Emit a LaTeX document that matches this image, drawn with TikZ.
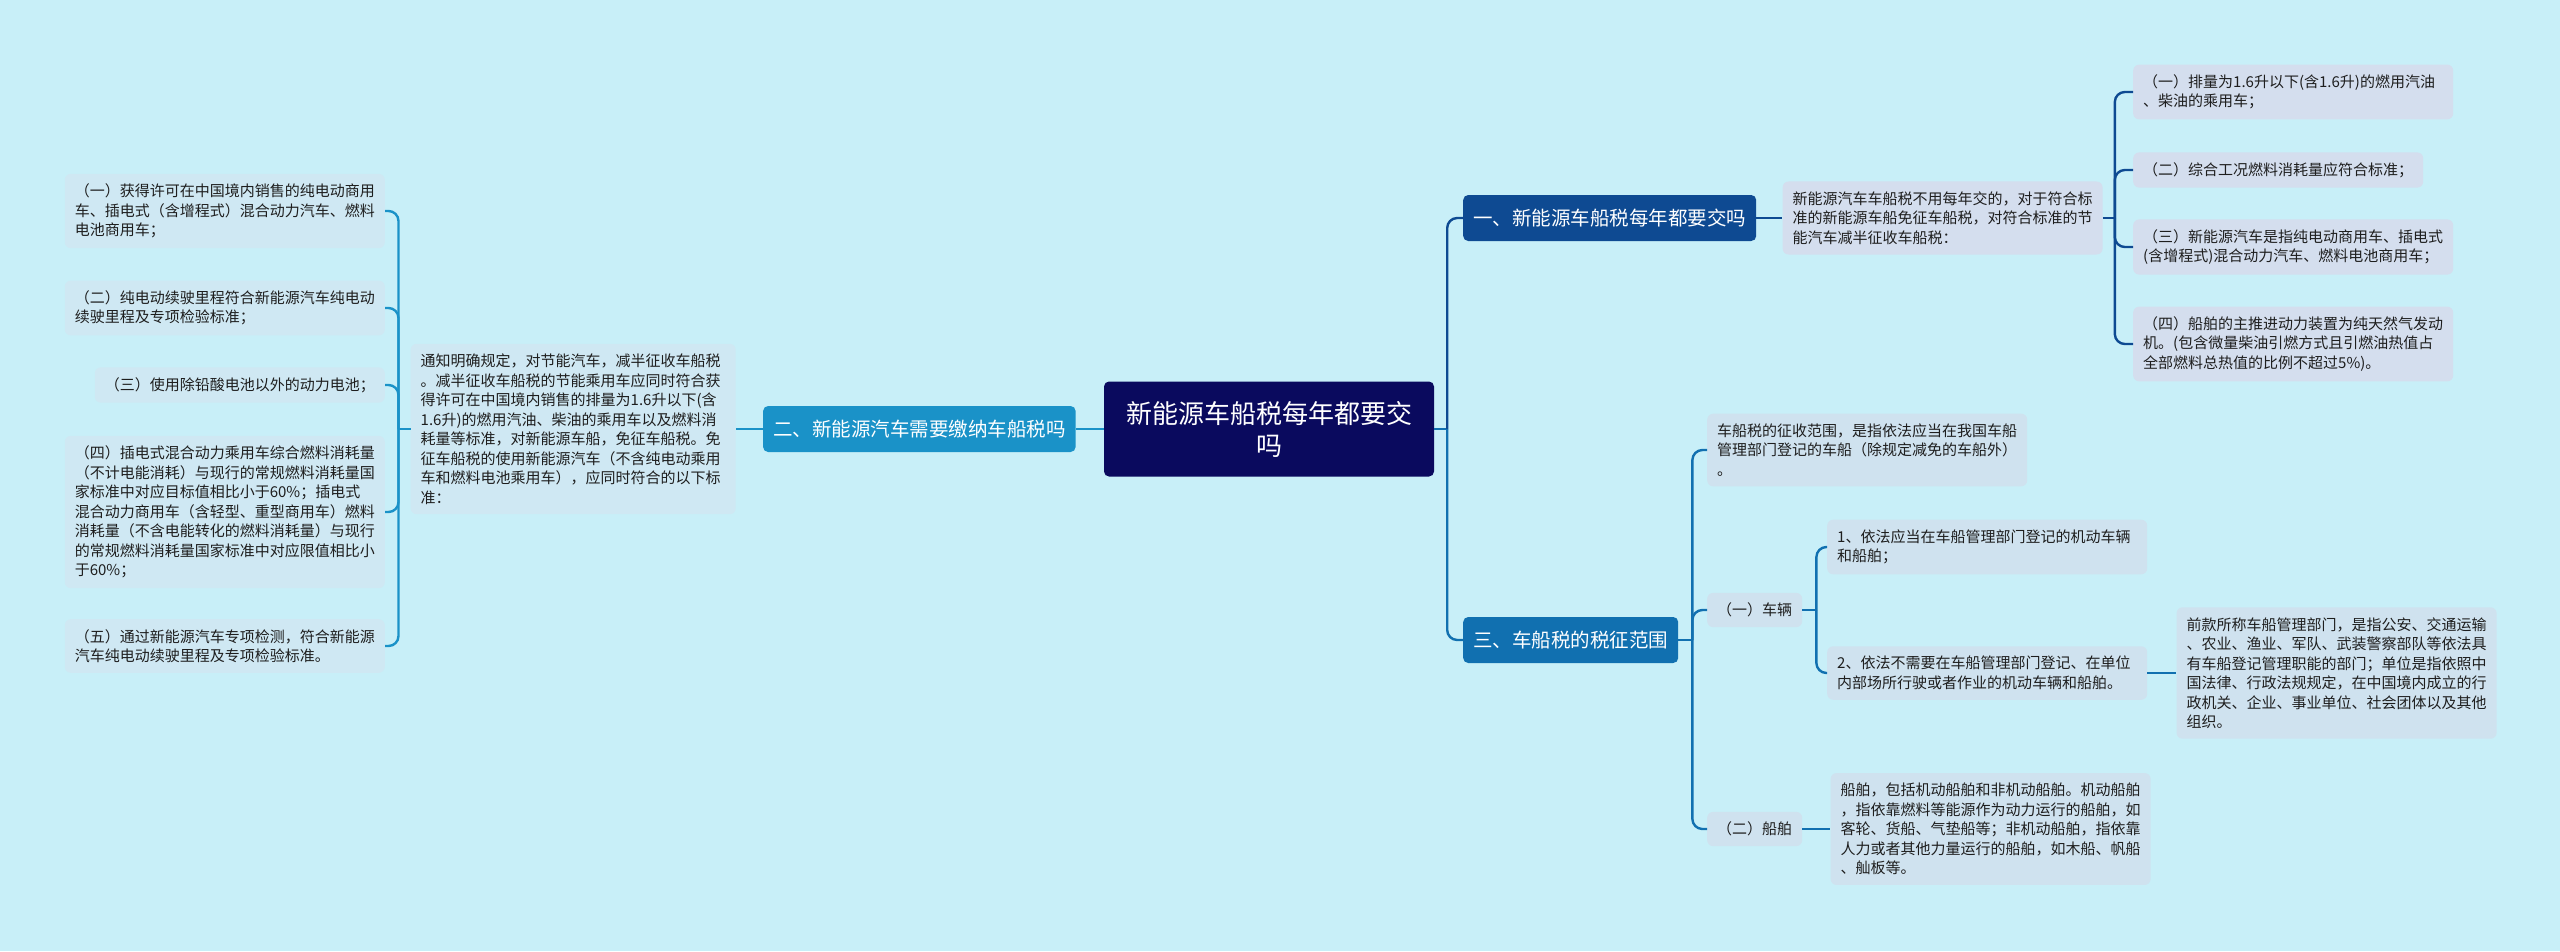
\documentclass[tikz,border=0pt]{standalone}
\usepackage{fontspec}
\usepackage{xcolor}
\usepackage{tikz}
\usetikzlibrary{positioning}
\newfontfamily\cjkfont{Noto Sans CJK SC}
\definecolor{mapBackground}{RGB}{200,239,248}
\definecolor{rootNavy}{RGB}{10,10,94}
\definecolor{branchOne}{RGB}{14,74,146}
\definecolor{branchTwo}{RGB}{26,146,200}
\definecolor{branchThree}{RGB}{17,112,176}
\definecolor{leafOne}{RGB}{212,222,238}
\definecolor{leafTwo}{RGB}{207,232,243}
\definecolor{leafThree}{RGB}{207,226,239}
\definecolor{textDark}{RGB}{30,30,30}
\tikzset{
  rootbox/.style={
    rectangle, rounded corners=5pt, fill=rootNavy, text=white,
    align=center, minimum width=330pt, minimum height=95pt,
    font=\cjkfont\fontsize{26}{32}\selectfont
  },
  branchbox/.style={
    rectangle, rounded corners=5pt, text=white, inner xsep=10pt,
    minimum height=46pt, font=\cjkfont\fontsize{19.5}{24}\selectfont
  },
  tagbox/.style={
    rectangle, rounded corners=6pt, text=textDark, inner xsep=10pt,
    inner ysep=10pt, font=\cjkfont\fontsize{15}{19.5}\selectfont
  },
  leafbox/.style={
    tagbox, align=left, text width=300pt
  },
  linkLine/.style={line width=2.4pt, rounded corners=10pt}
}

\begin{document}
\begin{tikzpicture}[x=1pt, y=-1pt]
  \fill[mapBackground] (0,0) rectangle (2560,951);
  \useasboundingbox (0,0) rectangle (2560,951);

  % centre topic
  \node[rootbox] (root) at (1269,429) {新能源车船税每年都要交\\吗};

  % branch one (right, top)
  \node[branchbox, fill=branchOne, anchor=west] (one) at (1463,218)
    {一、新能源车船税每年都要交吗};
  \node[leafbox, fill=leafOne, right=26pt of one] (oneNote)
    {新能源汽车车船税不用每年交的，对于符合标\\
     准的新能源车船免征车船税，对符合标准的节\\
     能汽车减半征收车船税：};
  \node[leafbox, fill=leafOne, anchor=west] (oneA) at (2133,92)
    {（一）排量为1.6升以下(含1.6升)的燃用汽油\\
     、柴油的乘用车；};
  \node[tagbox, fill=leafOne, anchor=west] (oneB) at (2133,170)
    {（二）综合工况燃料消耗量应符合标准；};
  \node[leafbox, fill=leafOne, anchor=west] (oneC) at (2133,247)
    {（三）新能源汽车是指纯电动商用车、插电式\\
     (含增程式)混合动力汽车、燃料电池商用车；};
  \node[leafbox, fill=leafOne, anchor=west] (oneD) at (2133,344)
    {（四）船舶的主推进动力装置为纯天然气发动\\
     机。(包含微量柴油引燃方式且引燃油热值占\\
     全部燃料总热值的比例不超过5\%)。};

  % branch two (left)
  \node[branchbox, fill=branchTwo, left=28pt of root] (two)
    {二、新能源汽车需要缴纳车船税吗};
  \node[leafbox, fill=leafTwo, text width=305pt, left=27pt of two] (twoNote)
    {通知明确规定，对节能汽车，减半征收车船税\\
     。减半征收车船税的节能乘用车应同时符合获\\
     得许可在中国境内销售的排量为1.6升以下(含\\
     1.6升)的燃用汽油、柴油的乘用车以及燃料消\\
     耗量等标准，对新能源车船，免征车船税。免\\
     征车船税的使用新能源汽车（不含纯电动乘用\\
     车和燃料电池乘用车），应同时符合的以下标\\
     准：};
  \node[leafbox, fill=leafTwo, anchor=east] (twoA) at (385,211)
    {（一）获得许可在中国境内销售的纯电动商用\\
     车、插电式（含增程式）混合动力汽车、燃料\\
     电池商用车；};
  \node[leafbox, fill=leafTwo, anchor=east] (twoB) at (385,308)
    {（二）纯电动续驶里程符合新能源汽车纯电动\\
     续驶里程及专项检验标准；};
  \node[tagbox, fill=leafTwo, anchor=east] (twoC) at (385,385)
    {（三）使用除铅酸电池以外的动力电池；};
  \node[leafbox, fill=leafTwo, anchor=east] (twoD) at (385,512)
    {（四）插电式混合动力乘用车综合燃料消耗量\\
     （不计电能消耗）与现行的常规燃料消耗量国\\
     家标准中对应目标值相比小于60\%；插电式\\
     混合动力商用车（含轻型、重型商用车）燃料\\
     消耗量（不含电能转化的燃料消耗量）与现行\\
     的常规燃料消耗量国家标准中对应限值相比小\\
     于60\%；};
  \node[leafbox, fill=leafTwo, anchor=east] (twoE) at (385,646)
    {（五）通过新能源汽车专项检测，符合新能源\\
     汽车纯电动续驶里程及专项检验标准。};

  % branch three (right, bottom)
  \node[branchbox, fill=branchThree, anchor=west] (three) at (1463,640)
    {三、车船税的税征范围};
  \node[leafbox, fill=leafThree, anchor=west] (scope) at (1707,450)
    {车船税的征收范围，是指依法应当在我国车船\\
     管理部门登记的车船（除规定减免的车船外）\\
     。};
  \node[tagbox, fill=leafThree, anchor=west] (vehicle) at (1707,610) {（一）车辆};
  \node[tagbox, fill=leafThree, anchor=west] (vessel) at (1707,829) {（二）船舶};
  \node[leafbox, fill=leafThree, anchor=west] (vehicleA) at (1827,547)
    {1、依法应当在车船管理部门登记的机动车辆\\
     和船舶；};
  \node[leafbox, fill=leafThree, anchor=west] (vehicleB) at (1827,673)
    {2、依法不需要在车船管理部门登记、在单位\\
     内部场所行驶或者作业的机动车辆和船舶。};
  \node[leafbox, fill=leafThree, right=29pt of vehicleB] (vehicleDept)
    {前款所称车船管理部门，是指公安、交通运输\\
     、农业、渔业、军队、武装警察部队等依法具\\
     有车船登记管理职能的部门；单位是指依照中\\
     国法律、行政法规规定，在中国境内成立的行\\
     政机关、企业、事业单位、社会团体以及其他\\
     组织。};
  \node[leafbox, fill=leafThree, right=28pt of vessel] (vesselNote)
    {船舶，包括机动船舶和非机动船舶。机动船舶\\
     ，指依靠燃料等能源作为动力运行的船舶，如\\
     客轮、货船、气垫船等；非机动船舶，指依靠\\
     人力或者其他力量运行的船舶，如木船、帆船\\
     、舢板等。};

  % connectors
  \draw[linkLine, branchThree] (root.east) -- ++(13,0) coordinate (rootFork);
  \draw[linkLine, branchOne] (rootFork) |- (one.west);
  \draw[linkLine, branchThree] (rootFork) |- (three.west);
  \draw[linkLine, branchTwo] (root.west) -- (two.east);
  \draw[linkLine, branchTwo] (two.west) -- (twoNote.east);

  \draw[linkLine, branchOne] (one.east) -- (oneNote.west);
  \draw[linkLine, branchOne] (oneNote.east) -- ++(12,0) coordinate (oneFork);
  \foreach \leaf in {oneA,oneB,oneC,oneD}
    \draw[linkLine, branchOne] (oneFork) |- (\leaf.west);

  \draw[linkLine, branchTwo] (twoNote.west) -- ++(-12,0) coordinate (twoFork);
  \foreach \leaf in {twoA,twoB,twoC,twoD,twoE}
    \draw[linkLine, branchTwo] (twoFork) |- (\leaf.east);

  \draw[linkLine, branchThree] (three.east) -- ++(14,0) coordinate (threeFork);
  \foreach \leaf in {scope,vehicle,vessel}
    \draw[linkLine, branchThree] (threeFork) |- (\leaf.west);
  \draw[linkLine, branchThree] (vehicle.east) -- ++(14,0) coordinate (vehicleFork);
  \foreach \leaf in {vehicleA,vehicleB}
    \draw[linkLine, branchThree] (vehicleFork) |- (\leaf.west);
  \draw[linkLine, branchThree] (vehicleB.east) -- (vehicleDept.west);
  \draw[linkLine, branchThree] (vessel.east) -- (vesselNote.west);
\end{tikzpicture}
\end{document}
